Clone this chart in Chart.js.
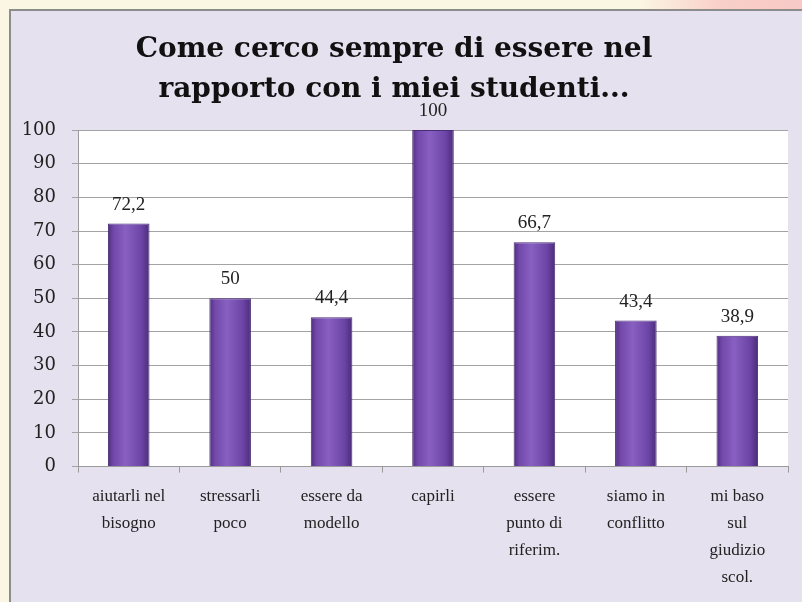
<!DOCTYPE html>
<html>
<head>
<meta charset="utf-8">
<script src="https://cdn.jsdelivr.net/npm/chart.js@4.4.1/dist/chart.umd.min.js"></script>
<style>
  html,body{margin:0;padding:0;}
  body{width:802px;height:602px;position:relative;overflow:hidden;
    background:linear-gradient(90deg,#fbf6e4 0,#fbf6e4 640px,#f9cfc9 720px,#f8c9c6 802px);}
  #frame{position:absolute;left:9px;top:9px;right:0;bottom:0;
    background:#e5e1ef;border-left:2px solid #8c8c8c;border-top:2px solid #8c8c8c;}
  #wrap{position:absolute;left:0;top:0;width:802px;height:602px;}
</style>
</head>
<body>
<div id="frame"></div>
<div id="wrap"><canvas id="c" width="802" height="602"></canvas></div>
<script>
const titleLines = ['Come cerco sempre di essere nel', 'rapporto con i miei studenti...'];
const categories = [
  ['aiutarli nel','bisogno'],
  ['stressarli','poco'],
  ['essere da','modello'],
  ['capirli'],
  ['essere','punto di','riferim.'],
  ['siamo in','conflitto'],
  ['mi baso','sul','giudizio','scol.']
];
const values = [72.2, 50, 44.4, 100, 66.7, 43.4, 38.9];
const yTicks = [0,10,20,30,40,50,60,70,80,90,100];

const SERIF = "'Liberation Serif', 'DejaVu Serif', serif";
const WIDE = "'DejaVu Serif', serif";
const fmt = v => String(v).replace('.', ',');

// purple column with darker sides and a soft highlight
function barFill(ctx){
  const chart = ctx.chart, xs = chart.scales.x;
  if (!xs || ctx.dataIndex === undefined) return '#7650ad';
  const cx = xs.getPixelForValue(ctx.dataIndex);
  const half = xs.width / categories.length * 0.41 / 2;
  if (!isFinite(cx) || !isFinite(half) || half <= 0) return '#7650ad';
  const g = chart.ctx.createLinearGradient(cx - half, 0, cx + half, 0);
  g.addColorStop(0, '#4f2f7e');
  g.addColorStop(0.14, '#7349ab');
  g.addColorStop(0.42, '#8760c2');
  g.addColorStop(0.8, '#6d45a6');
  g.addColorStop(1, '#4b2c7a');
  return g;
}

const plotBg = {
  id:'plotBg',
  beforeDraw(chart){
    const {ctx, chartArea:a} = chart;
    ctx.save();
    ctx.fillStyle = '#ffffff';
    ctx.fillRect(a.left, a.top, a.right - a.left, a.bottom - a.top);
    ctx.restore();
  }
};

const valueLabels = {
  id:'valueLabels',
  afterDatasetsDraw(chart){
    const ctx = chart.ctx;
    ctx.save();
    ctx.font = '19px ' + SERIF;
    ctx.fillStyle = '#222';
    ctx.textAlign = 'center';
    ctx.textBaseline = 'alphabetic';
    chart.getDatasetMeta(0).data.forEach((bar, i) => {
      ctx.fillText(fmt(values[i]), bar.x, bar.y - 14);
    });
    ctx.restore();
  }
};

new Chart(document.getElementById('c'), {
  type:'bar',
  data:{labels:categories, datasets:[{
    data:values,
    backgroundColor:barFill,
    borderColor:'#4a2d76',
    borderWidth:1,
    barPercentage:0.41,
    categoryPercentage:1
  }]},
  options:{
    responsive:false, animation:false,
    layout:{padding:{left:0, right:14, top:0, bottom:0}},
    plugins:{
      legend:{display:false},
      tooltip:{enabled:false},
      title:{display:true, text:titleLines, color:'#111',
        font:{family:WIDE, size:28, weight:'bold', lineHeight:1.43},
        padding:{top:30, bottom:20}}
    },
    scales:{
      x:{
        grid:{display:true, drawOnChartArea:false, drawTicks:true, tickLength:6, color:'#9a9a9a', offset:true},
        border:{color:'#9a9a9a'},
        ticks:{color:'#222', font:{family:SERIF, size:17, lineHeight:1.58}, padding:11, maxRotation:0, autoSkip:false}
      },
      y:{
        min:0, max:100,
        afterBuildTicks:s => { s.ticks = yTicks.map(v => ({value:v})); },
        afterFit:s => { s.width = 78; },
        grid:{color:'#a3a3a3', tickLength:6},
        border:{color:'#9a9a9a'},
        ticks:{color:'#222', font:{family:WIDE, size:18}, padding:16}
      }
    }
  },
  plugins:[plotBg, valueLabels]
});
</script>
</body>
</html>
